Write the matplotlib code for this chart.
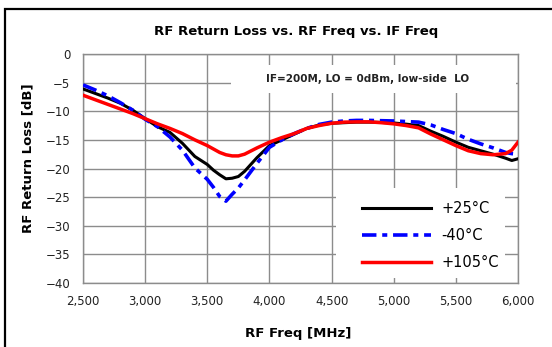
import matplotlib
matplotlib.use("Agg")
import matplotlib.pyplot as plt
from matplotlib.patches import Rectangle

# RF return loss vs RF frequency at three temperatures
freq = [2500, 2600, 2700, 2800, 2900, 3000, 3100, 3200, 3300, 3400,
        3500, 3550, 3600, 3650, 3700, 3750, 3800, 3900, 4000, 4100,
        4200, 4300, 4400, 4500, 4600, 4700, 4800, 4900, 5000, 5100,
        5200, 5300, 5400, 5500, 5600, 5700, 5800, 5900, 5950, 6000]

rl_25c = [-6.1, -6.9, -7.7, -8.6, -9.8, -11.3, -12.7, -13.7, -15.6, -17.9,
          -19.3, -20.3, -21.1, -21.8, -21.7, -21.4, -20.5, -18.1, -16.0, -15.0,
          -14.0, -13.0, -12.4, -12.1, -12.0, -11.9, -11.9, -11.95, -12.05, -12.25,
          -12.5, -13.5, -14.4, -15.4, -16.3, -16.9, -17.5, -18.2, -18.6, -18.3]

rl_m40c = [-5.4, -6.3, -7.3, -8.5, -9.8, -11.4, -12.7, -14.5, -16.8, -19.9,
           -21.9, -23.3, -24.9, -25.7, -24.5, -23.4, -22.0, -19.1, -16.3, -15.0,
           -13.9, -13.0, -12.3, -11.9, -11.7, -11.6, -11.6, -11.65, -11.7, -11.8,
           -11.9, -12.4, -13.2, -13.9, -14.9, -15.7, -16.4, -17.2, -17.4, -17.5]

rl_105c = [-7.2, -8.0, -8.8, -9.6, -10.4, -11.3, -12.2, -13.0, -13.9, -15.0,
           -16.0, -16.6, -17.2, -17.6, -17.8, -17.8, -17.5, -16.4, -15.4, -14.6,
           -13.9, -13.0, -12.5, -12.1, -11.9, -11.85, -11.85, -12.0, -12.2, -12.5,
           -12.9, -14.0, -15.0, -16.0, -16.9, -17.4, -17.6, -17.4, -16.8, -15.4]

x_ticks = [2500, 3000, 3500, 4000, 4500, 5000, 5500, 6000]
y_ticks = [0, -5, -10, -15, -20, -25, -30, -35, -40]

fig = plt.figure(figsize=(5.52, 3.47), dpi=100)
ax = fig.add_axes([83 / 552, 1 - 283 / 347, 435 / 552, 229 / 347])

ax.plot(freq, rl_25c, color="black", linewidth=2.2, label="+25°C", zorder=3)
ax.plot(freq, rl_m40c, color="#0000FF", linewidth=2.6,
        linestyle=(0, (4, 1.6, 1.4, 1.6)), label="-40°C", zorder=3)
ax.plot(freq, rl_105c, color="#FF0000", linewidth=2.5, label="+105°C", zorder=4)

ax.set_xlim(2500, 6000)
ax.set_ylim(-40, 0)
ax.set_xticks(x_ticks)
ax.set_xticklabels([f"{v:,}" for v in x_ticks])
ax.set_yticks(y_ticks)
ax.tick_params(length=0, labelsize=8.5, colors="#222222", pad=9)
ax.set_axisbelow(True)
ax.grid(True, color="#8c8c8c", linewidth=1)
for s in ax.spines.values():
    s.set_color("#8c8c8c")
    s.set_linewidth(1)

# white boxes behind the note and the legend
ax.add_patch(Rectangle((0.340, 0.830), 0.655, 0.122, transform=ax.transAxes,
                       facecolor="white", edgecolor="none", zorder=1))
ax.add_patch(Rectangle((0.582, 0.022), 0.388, 0.393, transform=ax.transAxes,
                       facecolor="white", edgecolor="none", zorder=1))

ax.text((368 - 83) / 435, (283 - 79) / 229, "IF=200M, LO = 0dBm, low-side  LO",
        transform=ax.transAxes, ha="center", va="center",
        fontsize=7.5, fontweight="bold", color="#222222", zorder=5)

ax.legend(loc="center left", bbox_to_anchor=((362 - 83) / 435, (283 - 235.5) / 229),
          frameon=False, fontsize=10.5, handlelength=4.7, handletextpad=0.75,
          labelspacing=0.85, borderpad=0, borderaxespad=0)

fig.text(296 / 552, 1 - 32 / 347, "RF Return Loss vs. RF Freq vs. IF Freq",
         ha="center", va="center", fontsize=9.5, fontweight="bold")
fig.text(298 / 552, 1 - 334 / 347, "RF Freq [MHz]",
         ha="center", va="center", fontsize=9.5, fontweight="bold")
fig.text(28 / 552, 1 - 158 / 347, "RF Return Loss [dB]", rotation=90,
         ha="center", va="center", fontsize=9.5, fontweight="bold")

# outer chart frame (left and top edges visible)
fig.add_artist(Rectangle((5 / 552, -0.1), 1.2, 1.1 - 9 / 347 + 0.0,
                         transform=fig.transFigure, facecolor="none",
                         edgecolor="black", linewidth=1.6))

fig.savefig("out.png", dpi=100)
